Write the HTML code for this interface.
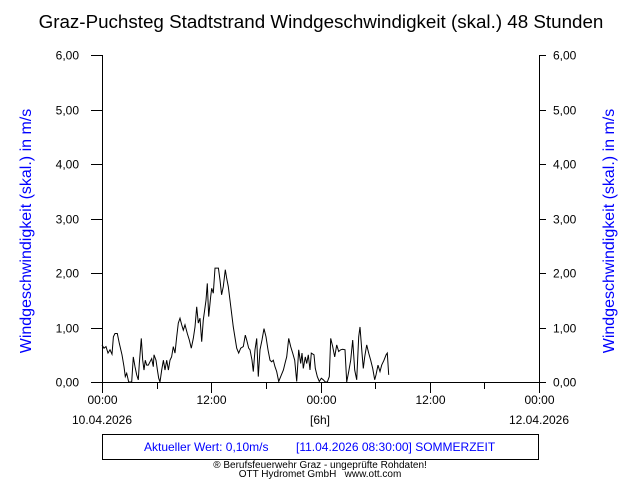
<!DOCTYPE html>
<html><head><meta charset="utf-8"><style>
body{margin:0;background:#fff;}
svg{display:block;font-family:"Liberation Sans",sans-serif;}
</style></head><body>
<svg id="chart" width="640" height="480">
<text x="321" y="28" font-size="18.8" text-anchor="middle">Graz-Puchsteg Stadtstrand Windgeschwindigkeit (skal.) 48 Stunden</text>
<text transform="translate(31,231) rotate(-90)" font-size="16" fill="#0000ff" text-anchor="middle">Windgeschwindigkeit (skal.) in m/s</text>
<text transform="translate(614,231) rotate(-90)" font-size="16" fill="#0000ff" text-anchor="middle">Windgeschwindigkeit (skal.) in m/s</text>
<g id="axes" stroke="#000" stroke-width="1" fill="none"></g>
<g id="labels" font-size="12"></g>
<polyline id="series" fill="none" stroke="#000" stroke-width="1"></polyline>
<text x="102" y="424" font-size="12" text-anchor="middle">10.04.2026</text>
<text x="320" y="424" font-size="12" text-anchor="middle">[6h]</text>
<text x="539" y="424" font-size="12" text-anchor="middle">12.04.2026</text>
<rect x="102.5" y="434.5" width="436" height="25" fill="none" stroke="#000"/>
<text x="144" y="451" font-size="12" fill="#0000ff">Aktueller Wert: 0,10m/s</text>
<text x="296" y="451" font-size="12" fill="#0000ff">[11.04.2026 08:30:00] SOMMERZEIT</text>
<text x="320" y="468" font-size="10" text-anchor="middle">® Berufsfeuerwehr Graz - ungeprüfte Rohdaten!</text>
<text x="320" y="477" font-size="10" text-anchor="middle">OTT Hydromet GmbH&#160;&#160;&#160;www.ott.com</text>
</svg>
<script>
const yTicks=[0,1,2,3,4,5,6];
const yTickLabels=["0,00","1,00","2,00","3,00","4,00","5,00","6,00"];
const xMajor=[0,12,24,36,48];
const xMajorLabels=["00:00","12:00","00:00","12:00","00:00"];
const xMinor=[6,18,30,42];
const times=[0,0.22,0.44,0.66,0.88,1.10,1.25,1.43,1.68,1.90,2.20,2.42,2.56,2.71,2.93,3.26,3.44,3.62,3.81,3.99,4.10,4.32,4.47,4.61,4.76,4.91,5.09,5.27,5.46,5.64,5.71,5.93,6.08,6.23,6.37,6.56,6.74,6.92,7.11,7.29,7.47,7.65,7.83,8.02,8.20,8.38,8.57,8.75,8.93,9.12,9.37,9.59,9.81,10.03,10.22,10.40,10.58,10.76,10.95,11.13,11.42,11.57,11.72,11.94,12.05,12.23,12.41,12.78,12.96,13.14,13.32,13.54,13.70,13.87,14.06,14.42,14.79,15.01,15.23,15.52,15.74,15.89,16.11,
16.26,16.48,16.62,16.81,16.99,17.17,17.35,17.57,17.79,18.01,18.23,18.45,18.64,18.82,19.00,19.19,19.41,19.63,19.92,20.14,20.29,20.51,20.73,20.95,21.17,21.39,21.61,21.83,21.97,22.11,22.33,22.48,22.66,22.85,22.99,23.29,23.43,23.65,23.87,24.09,24.31,24.53,24.75,24.97,25.12,25.34,25.56,25.78,26.00,26.22,26.44,26.69,26.88,27.10,27.32,27.54,27.76,27.98,28.20,28.34,28.56,28.70,28.85,29.07,29.29,29.51,29.73,29.95,30.10,30.32,30.54,30.72,30.98,31.20,31.34,31.49];
const speeds=[0.68,0.62,0.65,0.53,0.59,0.51,0.83,0.89,0.89,0.71,0.50,0.28,0.10,0.16,0,0,0.46,0.28,0.13,0.04,0.34,0.80,0.40,0.22,0.40,0.31,0.31,0.37,0.43,0.28,0.50,0.40,0.22,0.07,0,0.22,0.40,0.22,0.40,0.22,0.40,0.46,0.65,0.53,0.83,1.08,1.17,1.05,0.95,1.05,0.89,0.77,0.62,0.80,1.01,1.38,1.08,1.17,0.74,1.14,1.50,1.81,1.20,1.57,1.72,1.63,2.09,2.09,1.87,1.60,1.75,2.06,1.90,1.75,1.50,1.01,0.62,0.53,0.62,0.65,0.86,0.77,0.62,
0.59,0.40,0.19,0.59,0.80,0.10,0.59,0.77,0.98,0.83,0.59,0.40,0.37,0.40,0.28,0.19,0.01,0.10,0.22,0.37,0.46,0.80,0.65,0.53,0.40,0.01,0.59,0.34,0.53,0.25,0.46,0.34,0.50,0.22,0.53,0.50,0.25,0.10,0.01,0.07,0.04,0,0,0.10,0.80,0.65,0.46,0.68,0.56,0.59,0.60,0.59,0,0.19,0.40,0.77,0.22,0.04,0.83,1.01,0.53,0.25,0.46,0.68,0.53,0.40,0.25,0.04,0.13,0.31,0.19,0.31,0.40,0.50,0.53,0.13];
const X0=102,X1=539,Y0=382,Y1=55;
const xs=h=>X0+(X1-X0)*h/48;
const ys=v=>Y0-(Y0-Y1)*v/6;
const NS="http://www.w3.org/2000/svg";
const ax=document.getElementById('axes'),lb=document.getElementById('labels');
function line(x1,y1,x2,y2,name){const l=document.createElementNS(NS,'line');l.setAttribute('x1',x1);l.setAttribute('y1',y1);l.setAttribute('x2',x2);l.setAttribute('y2',y2);


ax.appendChild(l);}
function text(x,y,s,anchor,name){const t=document.createElementNS(NS,'text');t.setAttribute('x',x);t.setAttribute('y',y);t.setAttribute('text-anchor',anchor);t.textContent=s;


lb.appendChild(t);}
line(X0+0.5,Y1,X0+0.5,Y0+0.5,'y-axis-left');
line(X1+0.5,Y1,X1+0.5,Y0+0.5,'y-axis-right');
line(91,Y0+0.5,546,Y0+0.5,'x-axis');
yTicks.forEach((v,i)=>{const y=Math.round(ys(v))+0.5;
line(91,y,X0,y,'y-tick-left');line(X1,y,546,y,'y-tick-right');
text(79,y+4,yTickLabels[i],'end','y-tick-label-left');text(553,y+4,yTickLabels[i],'start','y-tick-label-right');});
xMajor.forEach((h,i)=>{const x=Math.round(xs(h))+0.5;line(x,Y0,x,393,'x-major-tick');text(x,404,xMajorLabels[i],'middle','x-tick-label');});
xMinor.forEach(h=>{const x=Math.round(xs(h))+0.5;line(x,Y0,x,389,'x-minor-tick');});
document.getElementById('series').setAttribute('points',times.map((t,i)=>xs(t).toFixed(1)+','+ys(speeds[i]).toFixed(1)).join(' '));
</script>
</body></html>
